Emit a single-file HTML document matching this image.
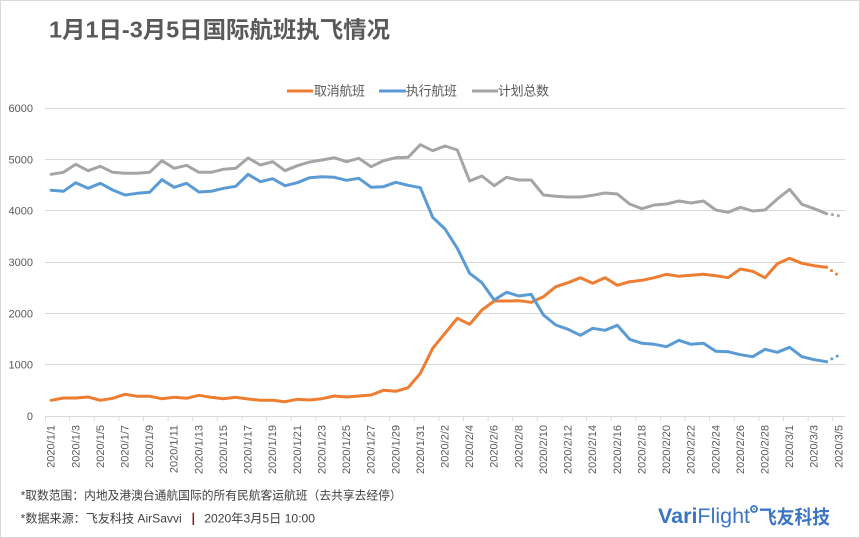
<!DOCTYPE html>
<html>
<head>
<meta charset="utf-8">
<style>
  html,body{margin:0;padding:0;background:#fff;}
  .wrap{position:relative;width:860px;height:538px;overflow:hidden;background:#fff;}
  svg{position:absolute;left:0;top:0;}
  text{font-family:"Liberation Sans","Noto Sans CJK SC",sans-serif;}
</style>
</head>
<body>
<div class="wrap">
<svg width="860" height="538" viewBox="0 0 860 538" xmlns="http://www.w3.org/2000/svg">
  <!-- border -->
  <rect x="0.5" y="0.5" width="859" height="537" fill="#fff" stroke="#d9d9d9" stroke-width="1"/>

  <!-- title -->
  <text x="49" y="37.5" font-size="23" font-weight="bold" fill="#595959" textLength="341" lengthAdjust="spacingAndGlyphs">1月1日-3月5日国际航班执飞情况</text>

  <!-- legend -->
  <line x1="287" y1="91" x2="313" y2="91" stroke="#ED7D31" stroke-width="3"/>
  <text x="314" y="95.5" font-size="13" fill="#595959" textLength="51">取消航班</text>
  <line x1="379" y1="91" x2="406" y2="91" stroke="#5B9BD5" stroke-width="3"/>
  <text x="406" y="95.5" font-size="13" fill="#595959" textLength="51">执行航班</text>
  <line x1="472" y1="91" x2="498" y2="91" stroke="#A5A5A5" stroke-width="3"/>
  <text x="498" y="95.5" font-size="13" fill="#595959" textLength="51">计划总数</text>

  <!-- gridlines -->
  <g stroke="#d9d9d9" stroke-width="1">
    <line x1="45" y1="108.5" x2="845" y2="108.5"/>
    <line x1="45" y1="159.5" x2="845" y2="159.5"/>
    <line x1="45" y1="210.5" x2="845" y2="210.5"/>
    <line x1="45" y1="262.5" x2="845" y2="262.5"/>
    <line x1="45" y1="313.5" x2="845" y2="313.5"/>
    <line x1="45" y1="364.5" x2="845" y2="364.5"/>
    <line x1="45" y1="416.5" x2="845" y2="416.5"/>
  </g>
  <!-- ticks -->
  <g stroke="#d9d9d9" stroke-width="1">
    <line x1="45.5" y1="416" x2="45.5" y2="421"/>
    <line x1="69.6" y1="416" x2="69.6" y2="421"/>
    <line x1="94.2" y1="416" x2="94.2" y2="421"/>
    <line x1="118.8" y1="416" x2="118.8" y2="421"/>
    <line x1="143.5" y1="416" x2="143.5" y2="421"/>
    <line x1="168.1" y1="416" x2="168.1" y2="421"/>
    <line x1="192.7" y1="416" x2="192.7" y2="421"/>
    <line x1="217.3" y1="416" x2="217.3" y2="421"/>
    <line x1="241.9" y1="416" x2="241.9" y2="421"/>
    <line x1="266.5" y1="416" x2="266.5" y2="421"/>
    <line x1="291.2" y1="416" x2="291.2" y2="421"/>
    <line x1="315.8" y1="416" x2="315.8" y2="421"/>
    <line x1="340.4" y1="416" x2="340.4" y2="421"/>
    <line x1="365.0" y1="416" x2="365.0" y2="421"/>
    <line x1="389.6" y1="416" x2="389.6" y2="421"/>
    <line x1="414.2" y1="416" x2="414.2" y2="421"/>
    <line x1="438.8" y1="416" x2="438.8" y2="421"/>
    <line x1="463.5" y1="416" x2="463.5" y2="421"/>
    <line x1="488.1" y1="416" x2="488.1" y2="421"/>
    <line x1="512.7" y1="416" x2="512.7" y2="421"/>
    <line x1="537.3" y1="416" x2="537.3" y2="421"/>
    <line x1="561.9" y1="416" x2="561.9" y2="421"/>
    <line x1="586.5" y1="416" x2="586.5" y2="421"/>
    <line x1="611.2" y1="416" x2="611.2" y2="421"/>
    <line x1="635.8" y1="416" x2="635.8" y2="421"/>
    <line x1="660.4" y1="416" x2="660.4" y2="421"/>
    <line x1="685.0" y1="416" x2="685.0" y2="421"/>
    <line x1="709.6" y1="416" x2="709.6" y2="421"/>
    <line x1="734.2" y1="416" x2="734.2" y2="421"/>
    <line x1="758.8" y1="416" x2="758.8" y2="421"/>
    <line x1="783.5" y1="416" x2="783.5" y2="421"/>
    <line x1="808.1" y1="416" x2="808.1" y2="421"/>
    <line x1="832.7" y1="416" x2="832.7" y2="421"/>
  </g>

  <!-- y labels -->
  <g font-size="11" fill="#595959" text-anchor="end">
    <text x="33" y="112">6000</text>
    <text x="33" y="163.3">5000</text>
    <text x="33" y="214.7">4000</text>
    <text x="33" y="266">3000</text>
    <text x="33" y="317.3">2000</text>
    <text x="33" y="368.7">1000</text>
    <text x="33" y="420">0</text>
  </g>

  <!-- x labels -->
  <g font-size="11" fill="#595959" text-anchor="end">
    <text transform="translate(54.65,425) rotate(-90)">2020/1/1</text>
    <text transform="translate(79.27,425) rotate(-90)">2020/1/3</text>
    <text transform="translate(103.88,425) rotate(-90)">2020/1/5</text>
    <text transform="translate(128.5,425) rotate(-90)">2020/1/7</text>
    <text transform="translate(153.12,425) rotate(-90)">2020/1/9</text>
    <text transform="translate(177.73,425) rotate(-90)">2020/1/11</text>
    <text transform="translate(202.35,425) rotate(-90)">2020/1/13</text>
    <text transform="translate(226.96,425) rotate(-90)">2020/1/15</text>
    <text transform="translate(251.58,425) rotate(-90)">2020/1/17</text>
    <text transform="translate(276.19,425) rotate(-90)">2020/1/19</text>
    <text transform="translate(300.81,425) rotate(-90)">2020/1/21</text>
    <text transform="translate(325.42,425) rotate(-90)">2020/1/23</text>
    <text transform="translate(350.04,425) rotate(-90)">2020/1/25</text>
    <text transform="translate(374.65,425) rotate(-90)">2020/1/27</text>
    <text transform="translate(399.27,425) rotate(-90)">2020/1/29</text>
    <text transform="translate(423.88,425) rotate(-90)">2020/1/31</text>
    <text transform="translate(448.5,425) rotate(-90)">2020/2/2</text>
    <text transform="translate(473.12,425) rotate(-90)">2020/2/4</text>
    <text transform="translate(497.73,425) rotate(-90)">2020/2/6</text>
    <text transform="translate(522.35,425) rotate(-90)">2020/2/8</text>
    <text transform="translate(546.96,425) rotate(-90)">2020/2/10</text>
    <text transform="translate(571.58,425) rotate(-90)">2020/2/12</text>
    <text transform="translate(596.19,425) rotate(-90)">2020/2/14</text>
    <text transform="translate(620.81,425) rotate(-90)">2020/2/16</text>
    <text transform="translate(645.42,425) rotate(-90)">2020/2/18</text>
    <text transform="translate(670.04,425) rotate(-90)">2020/2/20</text>
    <text transform="translate(694.65,425) rotate(-90)">2020/2/22</text>
    <text transform="translate(719.27,425) rotate(-90)">2020/2/24</text>
    <text transform="translate(743.88,425) rotate(-90)">2020/2/26</text>
    <text transform="translate(768.5,425) rotate(-90)">2020/2/28</text>
    <text transform="translate(793.12,425) rotate(-90)">2020/3/1</text>
    <text transform="translate(817.73,425) rotate(-90)">2020/3/3</text>
    <text transform="translate(842.35,425) rotate(-90)">2020/3/5</text>
  </g>

  <!-- series -->
  <g fill="none" stroke-width="3" stroke-linejoin="round" stroke-linecap="round">
    <polyline stroke="#ED7D31" points="51.15,400.3 63.46,398 75.77,398 88.08,397 100.38,400.3 112.69,398.3 125,394.3 137.31,396.3 149.62,396.3 161.92,398.7 174.23,397.3 186.54,398.3 198.85,395.3 211.15,397.3 223.46,398.7 235.77,397.3 248.08,399 260.38,400.3 272.69,400.3 285,401.7 297.31,399.3 309.62,400 321.92,398.7 334.23,396 346.54,397 358.85,396 371.15,395 383.46,390.3 395.77,391.3 408.08,387.7 420.38,373.3 432.69,348.3 445,333.3 457.31,318.3 469.62,324.3 481.92,310 494.23,301 506.54,301 518.85,300.7 531.15,302.3 543.46,296.7 555.77,286.7 568.08,282.7 580.38,277.7 592.69,283.3 605,277.7 617.31,285.3 629.62,281.7 641.92,280.3 654.23,277.7 666.54,274.3 678.85,276.3 691.15,275.3 703.46,274.3 715.77,275.7 728.08,277.7 740.38,269 752.69,271.3 765,277.7 777.31,263.7 789.62,258.3 801.92,263.3 814.23,265.7 826.54,267.3"/>
    <polyline stroke="#ED7D31" stroke-dasharray="0 6" points="826.54,267.3 838.85,275.7"/>

    <polyline stroke="#5B9BD5" points="51.15,190.3 63.46,191.3 75.77,182.7 88.08,188.3 100.38,183.3 112.69,190 125,195 137.31,193.3 149.62,192.3 161.92,179.7 174.23,187.3 186.54,183.3 198.85,192 211.15,191.3 223.46,188.3 235.77,186.3 248.08,174.3 260.38,181.7 272.69,178.7 285,185.7 297.31,182.7 309.62,177.7 321.92,176.7 334.23,177.3 346.54,180.3 358.85,178.3 371.15,187.3 383.46,186.7 395.77,182.3 408.08,185.3 420.38,187.7 432.69,217.3 445,229 457.31,248.3 469.62,273.3 481.92,282.7 494.23,300 506.54,292.3 518.85,296 531.15,294.3 543.46,315 555.77,325 568.08,329.3 580.38,335.3 592.69,328.3 605,330.3 617.31,325.3 629.62,339.3 641.92,343.3 654.23,344.3 666.54,346.7 678.85,340.3 691.15,344.3 703.46,343.3 715.77,351.3 728.08,351.7 740.38,354.7 752.69,356.7 765,349.3 777.31,352.3 789.62,347.3 801.92,356.7 814.23,359.7 826.54,361.7"/>
    <polyline stroke="#5B9BD5" stroke-dasharray="0 6" points="826.54,361.7 838.85,355.3"/>

    <polyline stroke="#A5A5A5" points="51.15,174.3 63.46,172.3 75.77,164.3 88.08,170.7 100.38,166.3 112.69,172.3 125,173.3 137.31,173.3 149.62,172.3 161.92,160.7 174.23,168.3 186.54,165.3 198.85,172.3 211.15,172.3 223.46,169.3 235.77,168.3 248.08,158 260.38,165 272.69,161.7 285,170.7 297.31,165.7 309.62,162 321.92,160 334.23,157.7 346.54,161.7 358.85,158.3 371.15,166.7 383.46,160.7 395.77,157.7 408.08,157.3 420.38,144.7 432.69,150.7 445,146 457.31,150 469.62,181 481.92,176 494.23,185.7 506.54,177.3 518.85,180 531.15,180 543.46,195 555.77,196.3 568.08,197 580.38,197 592.69,195.3 605,193 617.31,194 629.62,204 641.92,208.7 654.23,205 666.54,204 678.85,201 691.15,203 703.46,201 715.77,210 728.08,212.3 740.38,207.3 752.69,211 765,210 777.31,199 789.62,189.3 801.92,204.3 814.23,208.7 826.54,213.7"/>
    <polyline stroke="#A5A5A5" stroke-dasharray="0 6" points="826.54,213.7 838.85,215.7"/>
  </g>

  <!-- footer -->
  <text x="20.7" y="499.5" font-size="12" fill="#404040" textLength="381" lengthAdjust="spacingAndGlyphs">*取数范围：内地及港澳台通航国际的所有民航客运航班（去共享去经停）</text>
  <text x="20.7" y="522.5" font-size="12" fill="#404040" textLength="161" lengthAdjust="spacingAndGlyphs">*数据来源：飞友科技 AirSavvi</text>
  <line x1="193.3" y1="512.7" x2="193.3" y2="525" stroke="#8b1a1a" stroke-width="1.5"/>
  <text x="204.3" y="522.5" font-size="12" fill="#404040" textLength="110.7" lengthAdjust="spacingAndGlyphs">2020年3月5日 10:00</text>

  <!-- logo -->
  <text x="658" y="523" font-size="21" fill="#3b76c4" textLength="92" lengthAdjust="spacingAndGlyphs"><tspan font-weight="bold">Vari</tspan><tspan>Flight</tspan></text>
  <circle cx="754" cy="509" r="3" fill="none" stroke="#3b76c4" stroke-width="1.8"/>
  <circle cx="754" cy="509" r="0.9" fill="#3b76c4"/>
  <text x="759" y="523.5" font-size="19" font-weight="bold" fill="#3b76c4" textLength="71" lengthAdjust="spacingAndGlyphs">飞友科技</text>
</svg>
</div>
</body>
</html>
